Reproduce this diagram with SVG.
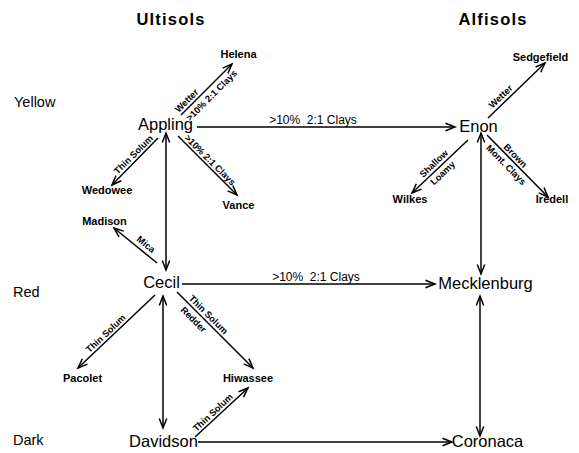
<svg xmlns="http://www.w3.org/2000/svg" width="579" height="453" viewBox="0 0 579 453">
<defs>
<marker id="ah" markerUnits="userSpaceOnUse" markerWidth="12" markerHeight="10" refX="9.5" refY="4" orient="auto-start-reverse" viewBox="0 0 12 8" overflow="visible">
<path d="M0,0.3 L9.5,4 L0,7.7" fill="none" stroke="#000" stroke-width="1.5"/>
</marker>
<style>
.ln{stroke:#000;stroke-width:1.5;fill:none;marker-end:url(#ah)}
.bi{marker-start:url(#ah)}
.main{font-family:"Liberation Sans",Arial,sans-serif;font-size:16.5px;text-anchor:middle;fill:#000}
.sm{font-family:"Liberation Sans",Arial,sans-serif;font-size:11px;font-weight:bold;text-anchor:middle;fill:#000}
.lab{font-family:"Liberation Sans",Arial,sans-serif;font-size:9.3px;font-weight:bold;text-anchor:middle;fill:#000}
.hl{font-family:"Liberation Sans",Arial,sans-serif;font-size:12px;text-anchor:middle;fill:#000}
.row{font-family:"Liberation Sans",Arial,sans-serif;font-size:14.5px;fill:#000}
.ttl{font-family:"Liberation Sans",Arial,sans-serif;font-size:16.5px;font-weight:bold;letter-spacing:1.2px;text-anchor:middle;fill:#000}
</style>
</defs>
<rect width="579" height="453" fill="#fff"/>

<g id="headings">
<text class="ttl" x="171" y="25">Ultisols</text>
<text class="ttl" x="493" y="25">Alfisols</text>
<text class="row" x="14" y="107">Yellow</text>
<text class="row" x="13" y="297">Red</text>
<text class="row" x="13" y="445">Dark</text>
</g>

<g id="connectors">
<line class="ln" x1="181" y1="115" x2="232" y2="64"/>
<line class="ln" x1="197" y1="127" x2="455" y2="127"/>
<line class="ln" x1="158" y1="138" x2="112" y2="185"/>
<line class="ln" x1="178" y1="136" x2="237" y2="195"/>
<line class="ln bi" x1="166" y1="133" x2="166" y2="270"/>
<line class="ln" x1="157" y1="263" x2="114" y2="228"/>
<line class="ln" x1="182" y1="284" x2="435" y2="284"/>
<line class="ln" x1="155" y1="295" x2="78" y2="368"/>
<line class="ln" x1="177" y1="292" x2="253" y2="368"/>
<line class="ln bi" x1="163" y1="296" x2="163" y2="428"/>
<line class="ln" x1="195" y1="437" x2="248" y2="388"/>
<line class="ln" x1="198" y1="442" x2="452" y2="442"/>
<line class="ln" x1="488" y1="118" x2="545" y2="63"/>
<line class="ln" x1="468" y1="140" x2="412" y2="193"/>
<line class="ln" x1="487" y1="135" x2="548" y2="197"/>
<line class="ln bi" x1="481" y1="133" x2="481" y2="274"/>
<line class="ln bi" x1="480" y1="296" x2="480" y2="436"/>

<text class="lab" transform="translate(191,105) rotate(-45)" y="-3">Wetter</text>
<text class="lab" transform="translate(206,90) rotate(-45)" y="11">&gt;10% 2:1 Clays</text>
<text class="hl" x="313" y="124">&gt;10%&#160; 2:1 Clays</text>
<text class="lab" transform="translate(137.5,158.5) rotate(-45)" y="-2.5">Thin Solum</text>
<text class="lab" transform="translate(206,164) rotate(45)" y="-2.5">&gt;10% 2:1 Clays</text>
<text class="lab" transform="translate(142,249) rotate(40)" y="-3">Mica</text>
<text class="hl" x="316" y="281">&gt;10%&#160; 2:1 Clays</text>
<text class="lab" transform="translate(110,338) rotate(-43.5)" y="-3">Thin Solum</text>
<text class="lab" transform="translate(204,319) rotate(45)" y="-3">Thin Solum</text>
<text class="lab" transform="translate(199,314) rotate(45)" y="11">Redder</text>
<text class="lab" transform="translate(217,417) rotate(-43)" y="-3">Thin Solum</text>
<text class="lab" transform="translate(505,101) rotate(-44)" y="-3">Wetter</text>
<text class="lab" transform="translate(438,168) rotate(-43.5)" y="-3">Shallow</text>
<text class="lab" transform="translate(438,168) rotate(-43.5)" y="10">Loamy</text>
<text class="lab" transform="translate(511,160) rotate(45.5)" y="-3">Brown</text>
<text class="lab" transform="translate(511,160) rotate(45.5)" y="10">Mont. Clays</text>
</g>

<g id="appling"><text class="main" x="165.5" y="130">Appling</text></g>
<g id="enon"><text class="main" x="478.5" y="132">Enon</text></g>
<g id="cecil"><text class="main" x="161.5" y="288">Cecil</text></g>
<g id="mecklenburg"><text class="main" x="485.5" y="289">Mecklenburg</text></g>
<g id="davidson"><text class="main" x="163.5" y="447">Davidson</text></g>
<g id="coronaca"><text class="main" x="487.5" y="447">Coronaca</text></g>
<g id="helena"><text class="sm" x="238.5" y="58">Helena</text></g>
<g id="sedgefield"><text class="sm" x="540.5" y="61">Sedgefield</text></g>
<g id="wedowee"><text class="sm" x="107" y="194">Wedowee</text></g>
<g id="vance"><text class="sm" x="238.5" y="209">Vance</text></g>
<g id="madison"><text class="sm" x="104.5" y="225">Madison</text></g>
<g id="wilkes"><text class="sm" x="410" y="203">Wilkes</text></g>
<g id="iredell"><text class="sm" x="552" y="203">Iredell</text></g>
<g id="pacolet"><text class="sm" x="82.5" y="382">Pacolet</text></g>
<g id="hiwassee"><text class="sm" x="248" y="382">Hiwassee</text></g>
</svg>
